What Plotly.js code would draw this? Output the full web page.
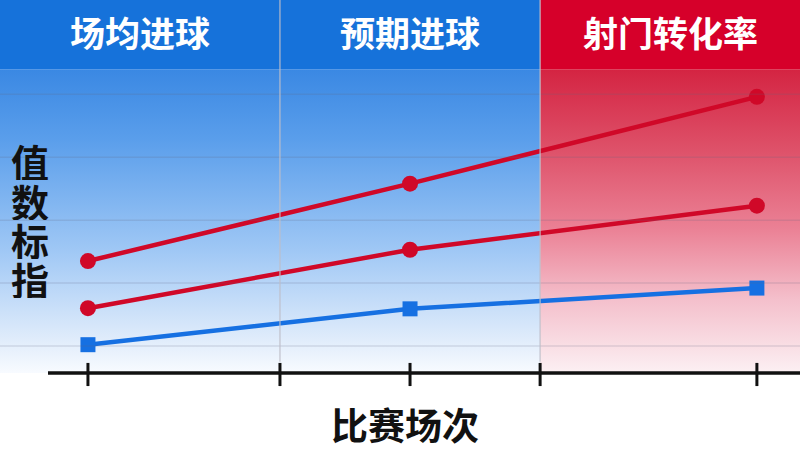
<!DOCTYPE html>
<html>
<head>
<meta charset="utf-8">
<script src="https://cdn.plot.ly/plotly-3.0.1.min.js"></script>
<style>
  html, body { margin: 0; padding: 0; background: #ffffff; }
  #chart { width: 800px; height: 450px; }
</style>
</head>
<body>
<div id="chart"></div>
<script>
// ---- data ----
const matches = [1, 14, 28];
const seriesHigh = [1.35, 2.58, 3.96];
const seriesMid = [0.60, 1.53, 2.23];
const seriesLow = [0.02, 0.59, 0.92];
const seriesNames = ['指标A', '指标B', '指标C'];
const bandLabels = ['场均进球', '预期进球', '射门转化率'];
const bandEdges = [-2.55, 8.75, 19.25, 29.74];
const tickVals = [1, 8.75, 14, 19.25, 28];
const gridVals = [0, 1, 2, 3, 4];
const yRange = [-0.43, 5.5];
const headerBottom = 4.4;
const xTitle = '比赛场次';
const yTitle = '指标数值';

// ---- styles ----
const RED = 'rgb(208,8,40)';
const BLUE = 'rgb(22,112,226)';
const FONT = '"Noto Sans CJK SC", "Noto Sans", sans-serif';
const blueScale = [
  [0, 'rgb(248,251,255)'], [0.11, 'rgb(224,236,251)'], [0.4, 'rgb(160,200,245)'],
  [0.77, 'rgb(90,158,235)'], [1, 'rgb(58,136,227)']
];
const redScale = [
  [0, 'rgb(252,240,243)'], [0.24, 'rgb(244,192,204)'], [0.47, 'rgb(235,130,150)'],
  [0.73, 'rgb(222,82,106)'], [1, 'rgb(212,36,66)']
];
const bandScales = [blueScale, blueScale, redScale];
const headerColors = ['rgb(22,114,218)', 'rgb(22,114,218)', 'rgb(214,0,42)'];

const traces = [];
// background gradient bands + header blocks
for (let i = 0; i < bandLabels.length; i++) {
  const x0 = bandEdges[i], x1 = bandEdges[i + 1];
  traces.push({
    type: 'scatter', mode: 'lines', x: [x0, x1, x1, x0, x0],
    y: [yRange[0], yRange[0], headerBottom, headerBottom, yRange[0]],
    fill: 'toself', line: { width: 0 },
    fillgradient: { type: 'vertical', colorscale: bandScales[i] },
    hoverinfo: 'skip', showlegend: false
  });
  traces.push({
    type: 'scatter', mode: 'lines', x: [x0, x1, x1, x0, x0],
    y: [headerBottom, headerBottom, yRange[1], yRange[1], headerBottom],
    fill: 'toself', line: { width: 0 }, fillcolor: headerColors[i],
    hoverinfo: 'skip', showlegend: false
  });
}
// data lines
const seriesList = [seriesHigh, seriesMid, seriesLow];
const seriesColors = [RED, RED, BLUE];
const seriesSymbols = ['circle', 'circle', 'square'];
const seriesSizes = [16, 16, 15];
seriesList.forEach((s, i) => {
  traces.push({
    type: 'scatter', mode: 'lines+markers', name: seriesNames[i],
    x: matches, y: s,
    line: { color: seriesColors[i], width: 4.5 },
    marker: { color: seriesColors[i], symbol: seriesSymbols[i], size: seriesSizes[i] },
    showlegend: false
  });
});

const shapes = [];
gridVals.forEach(v => shapes.push({
  type: 'line', xref: 'paper', yref: 'y', x0: 0, x1: 1, y0: v, y1: v,
  line: { color: 'rgba(100,100,125,0.18)', width: 1.5 }, layer: 'above'
}));
bandEdges.slice(1, -1).forEach(v => shapes.push({
  type: 'line', xref: 'x', yref: 'paper', x0: v, x1: v, y0: 0.03, y1: 1,
  line: { color: 'rgba(190,190,200,0.75)', width: 1.5 }, layer: 'above'
}));
// axis line and crossing ticks
shapes.push({
  type: 'line', xref: 'paper', yref: 'paper', x0: 0.06, x1: 1, y0: 0, y1: 0,
  line: { color: '#111', width: 3.5 }, layer: 'above'
});
tickVals.forEach(v => shapes.push({
  type: 'line', xref: 'x', yref: 'paper', x0: v, x1: v, y0: -0.035, y1: 0.027,
  line: { color: '#111', width: 3 }, layer: 'above'
}));

const annotations = [];
bandLabels.forEach((t, i) => annotations.push({
  text: t, xref: 'x', yref: 'y', x: (bandEdges[i] + bandEdges[i + 1]) / 2,
  y: (headerBottom + yRange[1]) / 2, showarrow: false, yshift: 3,
  xanchor: 'center', yanchor: 'middle',
  font: { family: FONT, size: 35, color: '#ffffff', weight: 700 }
}));
annotations.push({
  text: xTitle, xref: 'paper', yref: 'paper', x: 0.506, y: -0.137,
  xanchor: 'center', yanchor: 'middle', height: 42,
  showarrow: false, font: { family: FONT, size: 37, color: '#111', weight: 700 }
});
// vertical y title (characters stacked, reading bottom-to-top)
const yChars = Array.from(yTitle).reverse();
yChars.forEach((c, i) => annotations.push({
  text: c, xref: 'paper', yref: 'paper', x: 0.0375,
  y: (373 - (161 + i * 39)) / 373, showarrow: false,
  xanchor: 'center', yanchor: 'middle', height: 39,
  font: { family: FONT, size: 38, color: '#111', weight: 700 }
}));

const layout = {
  width: 800, height: 450,
  margin: { l: 0, r: 0, t: 0, b: 77 },
  paper_bgcolor: '#ffffff', plot_bgcolor: 'rgba(0,0,0,0)',
  xaxis: { range: [bandEdges[0], bandEdges[bandEdges.length - 1]], showgrid: false,
           zeroline: false, showticklabels: false, ticks: '', showline: false, fixedrange: true },
  yaxis: { range: yRange, showgrid: false, zeroline: false, showticklabels: false,
           ticks: '', showline: false, fixedrange: true },
  shapes: shapes, annotations: annotations, showlegend: false
};

Plotly.newPlot('chart', traces, layout, { displayModeBar: false, staticPlot: true });
</script>
</body>
</html>
